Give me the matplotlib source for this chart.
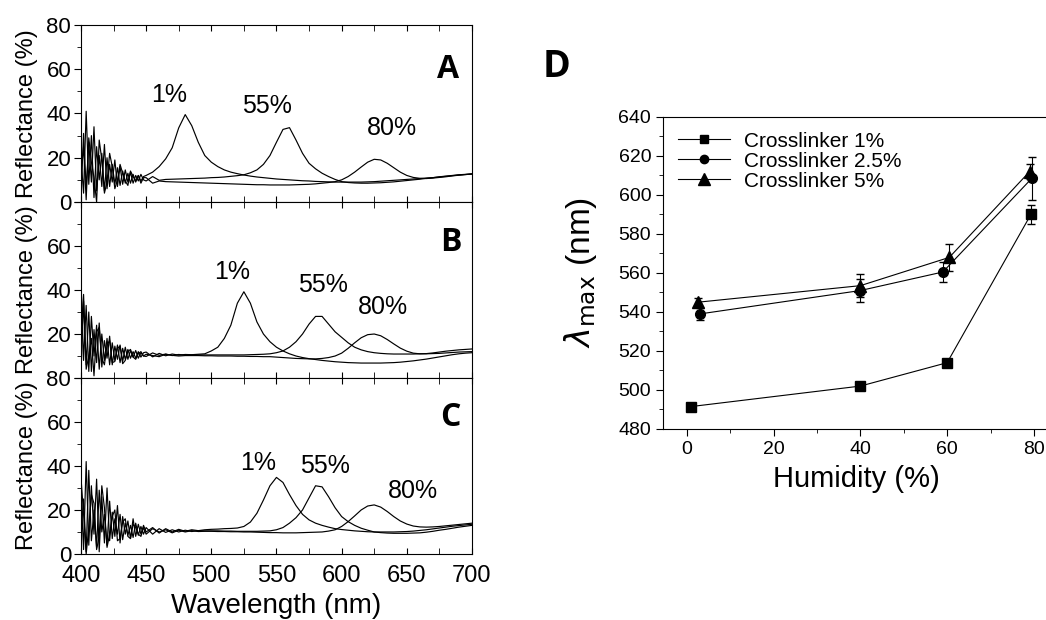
import numpy as np
import matplotlib
matplotlib.use("Agg")
import matplotlib.pyplot as plt
from matplotlib.ticker import MultipleLocator
from matplotlib.lines import Line2D

plt.rcParams['font.family'] = ['Liberation Sans', 'DejaVu Sans']
plt.rcParams['mathtext.fontset'] = 'dejavusans'

# wavelength grid: fine in the noisy blue end, coarser elsewhere
wl = np.concatenate([np.arange(400, 450, 2), np.arange(450, 705, 5)])

# ---- panel A (reflectance %, humidity 1 / 55 / 80 %)
a_1 = [20, 4, 41, 8, 30, 2, 25, 10, 22, 5, 20, 7, 17, 8, 15.5, 7.5, 14, 8.5, 13, 8.5, 12.5, 9, 12, 9.5, 11.5,
       12, 13.5, 16, 19.5, 24.5, 33.5, 39.5, 34.5, 27, 21, 18, 16, 14.5, 13.5, 12.8, 12.2, 11.7, 11.3, 11, 10.7,
       10.4, 10.2, 10, 9.8, 9.6, 9.5, 9.3, 9.2, 9.1, 9, 9, 9, 9, 9, 9.1, 9.2, 9.4, 9.6, 9.8, 10,
       10.2, 10.4, 10.6, 10.8, 11, 11.3, 11.6, 11.9, 12.2, 12.4, 12.6]
a_55 = [3, 31, 6, 27, 9, 34, 5, 21, 7, 26, 6, 17, 9, 19, 7, 16, 8, 14.5, 9, 13.5, 8.5, 12, 9.5, 12.5, 10,
        9.5, 11.5, 9.8, 10.2, 10.3, 10.4, 10.5, 10.6, 10.7, 10.8, 11, 11.1, 11.3, 11.6, 11.9, 12.3, 13.2, 14.5, 17, 21,
        27, 32.8, 33.6, 28, 22, 17.5, 15, 13, 11.5, 10.2, 9.2, 8.8, 8.6, 8.5, 8.5, 8.6, 8.7, 8.9, 9.1, 9.4,
        9.7, 10, 10.3, 10.7, 11, 11.4, 11.7, 12, 12.3, 12.5, 12.7]
a_80 = [12, 25, 1, 29, 18, 11, 0, 28, 19, 4, 9, 22, 16, 6, 10, 17, 13, 9.5, 7.5, 14, 11.5, 9.5, 12, 8.5, 11,
        11, 8.5, 9.5, 9.2, 9.1, 9, 8.9, 8.8, 8.7, 8.6, 8.5, 8.4, 8.3, 8.2, 8.1, 8, 7.9, 7.8, 7.8, 7.7,
        7.7, 7.7, 7.7, 7.8, 7.9, 8, 8.2, 8.5, 8.8, 9.2, 10, 11.5, 13.5, 15.8, 18, 19.3, 19, 17.5, 15.5, 13.5,
        12, 11.1, 10.7, 10.6, 10.8, 11.1, 11.4, 11.8, 12.1, 12.4, 12.7]

# ---- panel B
b_1 = [44, 8, 33, 3, 28, 10, 24, 4, 20, 8, 18, 6, 16, 8, 15, 7, 13.5, 8.5, 13, 9, 12, 9, 12, 9.5, 11.5,
       11.8, 9.6, 11.2, 10.1, 10.9, 10.4, 10.7, 10.6, 10.8, 11, 12.3, 14, 18, 24, 34, 39.2, 34, 25.5, 20, 16.5,
       14, 12.3, 11, 10, 9.3, 8.8, 8.4, 8, 7.7, 7.4, 7.2, 7, 6.9, 6.8, 6.8, 6.8, 6.8, 6.9, 7, 7.2,
       7.5, 7.8, 8.2, 8.6, 9.1, 9.6, 10.1, 10.6, 11, 11.3, 11.5]
b_55 = [2, 35, 6, 30, 3, 22, 7, 25, 5, 17, 9, 19, 6, 14.5, 8.5, 15, 7.5, 14, 8.5, 12.5, 9.5, 12.5, 9, 11.5, 10,
        9.8, 11.4, 10.3, 10.9, 10.2, 10.7, 10.4, 10.5, 10.5, 10.5, 10.5, 10.5, 10.5, 10.5, 10.5, 10.5, 10.6, 10.7, 10.8, 11,
        11.5, 12.3, 14, 16.5, 20, 24.5, 28, 28, 24.5, 21, 18.5, 16, 14, 12.8, 12, 11.5, 11.2, 11, 10.9, 10.9,
        10.9, 10.9, 11, 11, 11.1, 11.2, 11.4, 11.6, 11.8, 11.9, 12]
b_80 = [20, 38, 4, 10, 18, 1, 21, 23, 9, 6, 15, 17, 7, 7.5, 13.5, 14.5, 6.5, 8, 12, 13, 9.5, 8.5, 11, 12, 10,
        10.8, 10.2, 9.7, 10.8, 10.3, 10, 10.2, 10.2, 10.2, 10.1, 10.1, 10, 10, 10, 9.9, 9.9, 9.8, 9.8, 9.7, 9.7,
        9.5, 9.3, 9.1, 8.9, 8.8, 8.7, 8.7, 8.9, 9.3, 10, 11.3, 13.5, 16, 18.3, 19.7, 20, 19.2, 17.5, 15.5, 13.6,
        12.2, 11.3, 11, 11.1, 11.4, 11.8, 12.2, 12.5, 12.8, 13, 13.2]

# ---- panel C
c_1 = [28, 2, 42, 4, 31, 9, 34, 1, 26, 5, 30, 6, 19, 8, 22, 5, 17, 9, 15, 7, 16, 8, 13.5, 9, 13,
       10, 12, 9.5, 11.5, 10, 11.2, 10.3, 11, 10.6, 11, 11.2, 11.3, 11.5, 11.6, 11.8, 12.5, 14.5, 18.5, 24.5, 31,
       34.8, 32.5, 27, 22, 18, 15.5, 14, 13, 12.2, 11.5, 11.1, 10.8, 10.5, 10.3, 10.1, 10, 10, 10, 10, 10.1,
       10.2, 10.4, 10.7, 11, 11.4, 11.8, 12.2, 12.6, 12.9, 13.2, 13.5]
c_55 = [9, 25, 1, 38, 6, 20, 3, 29, 10, 18, 4, 24, 7, 16, 9, 18, 6.5, 14, 8.5, 13, 7.5, 14, 8.5, 12.5, 9,
        12, 9, 11.5, 9.8, 11, 10, 10.8, 10.2, 10.6, 10.5, 10.5, 10.5, 10.4, 10.4, 10.3, 10.3, 10.3, 10.3, 10.4, 10.5,
        11, 12, 14, 16.5, 20, 25.5, 31, 30.5, 26, 21, 17, 14.7, 13, 11.7, 10.8, 10, 9.7, 9.5, 9.4, 9.4,
        9.4, 9.5, 9.6, 9.9, 10.3, 10.8, 11.2, 11.7, 12.2, 12.6, 13]
c_80 = [35, 18, 0, 12, 27, 23, 2, 8, 31, 21, 3, 9, 17, 20, 6, 7, 14.5, 16, 8, 7, 13.5, 12, 9, 8, 12,
        9, 11.5, 10, 11, 9.6, 10.8, 10, 10.6, 10.2, 10.3, 10.3, 10.2, 10.2, 10.1, 10.1, 10, 10, 9.9, 9.8, 9.7,
        9.7, 9.6, 9.6, 9.6, 9.7, 9.8, 9.9, 10, 10.4, 11, 12.5, 14.7, 17.3, 20, 21.8, 22.3, 21.3, 19.3, 17, 15,
        13.6, 12.7, 12.3, 12.2, 12.3, 12.5, 12.8, 13.1, 13.4, 13.7, 14]

peak_labels = ['1%', '55%', '80%']

# ---- panel D: peak wavelength vs humidity
hum_1 = [1, 40, 60, 79.3]
lam_1 = [491.5, 502, 514, 590]
err_1 = [1.5, 1.5, 2, 5]
hum_25 = [3, 40, 59, 79.5]
lam_25 = [539, 551, 560.5, 608.5]
err_25 = [3, 6, 5, 11]
hum_5 = [2.5, 40, 60.5, 79]
lam_5 = [545, 553.5, 568, 612]
err_5 = [2, 6, 7, 4]
series_names = ['Crosslinker 1%', 'Crosslinker 2.5%', 'Crosslinker 5%']

fig = plt.figure(figsize=(10.46, 6.2), dpi=100)

panels = [
    ('A', [a_1, a_55, a_80], [(467.5, 48.4), (542.7, 43.4), (638.6, 33.4)], [0.6742, 0.2855], [0, 20, 40, 60, 80]),
    ('B', [b_1, b_55, b_80], [(515.8, 48.2), (585.7, 42.3), (631.7, 32.3)], [0.3903, 0.2839], [20, 40, 60]),
    ('C', [c_1, c_55, c_80], [(535.8, 41.4), (587.0, 40.0), (654.7, 28.6)], [0.1065, 0.2839], [0, 20, 40, 60, 80]),
]
letter_pos = {'A': (0.4283, 0.8887), 'B': (0.4312, 0.6081), 'C': (0.4302, 0.3274)}

for name, curves, lab_pos, (bot, h), ylabs in panels:
    ax = fig.add_axes([0.0774, bot, 0.3738, h])
    for y in curves:
        ax.plot(wl, y, color='black', lw=0.85)
    for txt, (lx, ly) in zip(peak_labels, lab_pos):
        ax.text(lx, ly, txt, fontsize=18, ha='center', va='center')
    ax.set_xlim(400, 700)
    ax.set_ylim(0, 80)
    ax.set_yticks([0, 20, 40, 60, 80])
    ax.set_yticklabels([str(v) if v in ylabs else '' for v in [0, 20, 40, 60, 80]])
    ax.yaxis.set_minor_locator(MultipleLocator(10))
    ax.xaxis.set_major_locator(MultipleLocator(50))
    ax.xaxis.set_minor_locator(MultipleLocator(25))
    ax.tick_params(axis='y', which='major', direction='out', length=5, labelsize=16, pad=2)
    ax.tick_params(axis='y', which='minor', direction='out', length=3)
    ax.tick_params(axis='x', which='both', direction='in', top=True, length=4)
    ax.set_ylabel('Reflectance (%)', fontsize=17)
    ax.yaxis.set_label_coords(-0.11, 0.5)
    if name == 'C':
        ax.tick_params(axis='x', labelsize=17, pad=8)
        ax.set_xlabel('Wavelength (nm)', fontsize=20, labelpad=4)
    else:
        ax.tick_params(axis='x', labelbottom=False)
    fig.text(*letter_pos[name], name, fontsize=23, fontweight='bold', family='Open Sans',
             ha='center', va='center')

# panel D
axd = fig.add_axes([0.6338, 0.3081, 0.37, 0.5032])
markers = ['s', 'o', '^']
for (hx, ly, ey), mk in zip([(hum_1, lam_1, err_1), (hum_25, lam_25, err_25), (hum_5, lam_5, err_5)], markers):
    axd.errorbar(hx, ly, yerr=ey, color='black', marker=mk, ms=7 if mk != '^' else 8, lw=0.8,
                 capsize=3, elinewidth=0.8)
axd.set_xlim(-5.5, 83.7)
axd.set_ylim(480, 640)
axd.yaxis.set_major_locator(MultipleLocator(20))
axd.yaxis.set_minor_locator(MultipleLocator(10))
axd.xaxis.set_major_locator(MultipleLocator(20))
axd.xaxis.set_minor_locator(MultipleLocator(10))
axd.tick_params(which='major', direction='out', length=5, labelsize=14)
axd.tick_params(which='minor', direction='out', length=3)
axd.set_xlabel('Humidity (%)', fontsize=21, labelpad=5)
axd.set_ylabel(r'$\lambda_{\mathrm{max}}$ (nm)', fontsize=24, labelpad=14)
handles = [Line2D([], [], color='black', lw=0.8, marker=mk, ms=6 if mk != '^' else 8) for mk in markers]
axd.legend(handles, series_names, loc='upper left', frameon=False, fontsize=15, handlelength=2.5,
           handletextpad=0.7, labelspacing=0.05, borderaxespad=0.3)
fig.text(0.5325, 0.8919, 'D', fontsize=27, fontweight='bold', family='Open Sans',
         ha='center', va='center')

fig.savefig('out.png', dpi=100)
